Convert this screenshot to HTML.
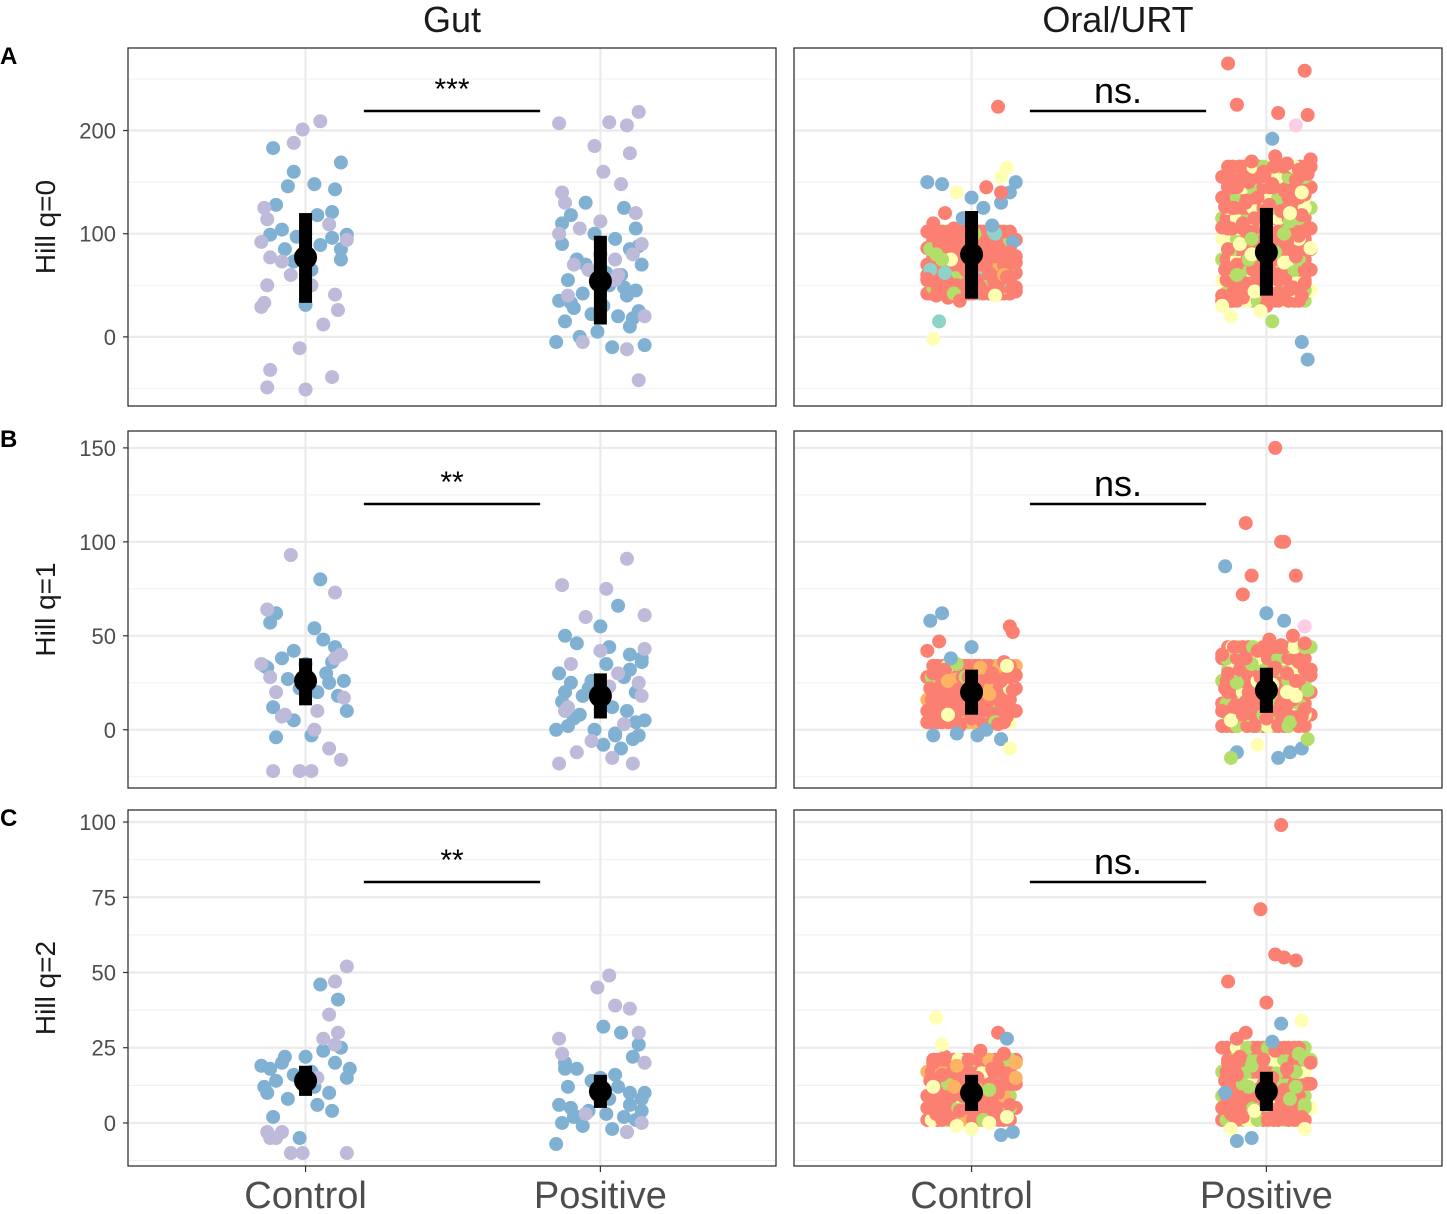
<!DOCTYPE html>
<html><head><meta charset="utf-8"><style>
body{margin:0;background:#fff;}
svg{display:block;font-family:"Liberation Sans",sans-serif;}
</style></head><body>
<svg id="chart" width="1447" height="1214"></svg>
<script>
// ---------- data ----------
const categories = ["Control","Positive"];
const rowTitles = ["Hill q=0","Hill q=1","Hill q=2"];
const rowLetters = ["A","B","C"];
const colTitles = ["Gut","Oral/URT"];
const rowTicks = [[0,100,200],[0,50,100,150],[0,25,50,75,100]];
const rowMinor = [[-50,50,150,250],[-25,25,75,125],[-12.5,12.5,37.5,62.5,87.5]];
const rowDomain = [[-67,280],[-31,159],[-14.3,104]];
const sigLabels = [["***","ns."],["**","ns."],["**","ns."]];
const meanVals = [[[77,54],[80,82]],[[26,18],[20,21]],[[14,10.5],[10,10.5]]];
const lowVals  = [[[33,12],[37,40]],[[13,6],[8,9]],[[9,5],[4,4]]];
const highVals = [[[120,98],[122,125]],[[38,30],[32,33]],[[19,16],[16,17]]];
const palette = {b:"#80B1D3",l:"#BEBADA",r:"#FB8072",y:"#FFFFB3",g:"#B3DE69",o:"#FDB462",p:"#FCCDE5",t:"#8DD3C7"};

// Gut row A
const gA_c_x=[-.11,-.04,-.06,.03,.12,-.1,-.12,-.08,-.03,.05,.09,.14,.12,-.04,.02,0,.09,.04,.1,-.02,-.07,.12,.05,-.01,-.04,-.14,-.13,-.15,-.08,-.12,.08,.1,.06,.11,-.13,-.14,-.15,-.02,0,-.12,-.13,.09,-.05,.02,.14];
const gA_c_v=[183,160,146,148,169,128,99,104,97,89,96,99,75,73,65,31,121,118,143,77,85,85,209,201,188,125,114,92,73,77,109,41,12,26,50,33,29,-11,-51,-32,-49,-39,60,50,94];
const gA_c_c="bbbbbbbbbbbbbbbbbbbbbblllllllllllllllllllllll";
const gA_p_x=[-.05,.08,-.1,.12,-.02,.05,-.13,.1,0,-.08,.14,-.04,.07,-.11,.03,.12,-.06,.09,-.14,.01,-.09,.13,-.03,.06,-.12,.1,-.01,-.15,.15,.04,-.07,.11,-.1,.08,.02,-.05,.13,-.13,.13,.03,-.14,.09,-.02,.1,.07,-.13,-.12,.12,.0,-.07,.14,.11,.05,-.09,-.04,.06,-.11,.15,-.06,.09,.13,.01,-.14,.05];
const gA_p_v=[130,125,118,105,100,95,90,85,80,75,70,65,60,55,50,45,42,40,35,30,28,25,22,20,15,10,5,-5,-8,-10,0,18,33,48,62,70,88,110,218,208,207,205,185,178,148,140,130,120,112,105,90,80,75,70,65,60,40,20,-5,-12,-42,160,100,55];
const gA_p_c="bbbbbbbbbbbbbbbbbbbbbbbbbbbbbbbbbbbbbbllllllllllllllllllllllllll";
// Oral row A
const oA_c_x=[-.15,-.12,-.1,-.08,-.05,-.02,0,.03,.06,.09,.12,.15,-.14,-.11,-.07,-.04,-.01,.02,.05,.08,.11,.14,-.13,-.09,-.06,-.03,.01,.04,.07,.1,.13,-.15,-.1,-.05,0,.05,.1,.15,-.12,-.08,.09,.12,-.13,.1,-.11,-.14,-.06,.02,.11,.14,-.1,.06,-.02,.13,-.15,.08,-.04,.0,.12,-.09,.03,-.12,.15,-.07];
const oA_c_v=[60,55,70,45,50,65,58,48,62,52,68,44,85,90,75,95,80,88,72,100,78,92,110,120,105,115,100,125,108,130,140,150,148,140,135,145,155,150,40,38,223,164,-2,140,15,65,42,55,60,48,75,88,70,82,56,40,35,50,58,62,46,80,72,97];
const oA_c_c="rrrrrrrrrrrrgryrorrtrbrrrbgbbbbbbybrybrrryyrttgrorgrrrryrrrtrgr";
const oA_p_x=[-.15,-.11,-.07,-.03,.01,.05,.09,.13,-.14,-.1,-.06,-.02,.02,.06,.1,.14,-.13,-.09,-.05,-.01,.03,.07,.11,.15,-.12,-.08,-.04,0,.04,.08,.12,-.15,-.11,-.07,-.03,.01,.05,.09,.13,-.14,-.1,-.06,-.02,.02,.06,.1,.14,-.13,-.09,-.05,-.01,.03,.07,.11,.15,-.12,-.08,-.04,0,.04,.08,.12,-.13,.13,-.1,.14,.04,.02,.1,.12,.14,-.15,-.1,.06,.12,-.05,.08,-.12,-.02,.02,-.14,.13];
const oA_p_v=[40,45,50,55,60,42,48,52,65,70,75,68,62,72,78,66,85,90,95,88,82,92,98,86,105,110,115,108,102,112,118,106,125,130,135,128,122,132,138,126,145,150,155,148,142,152,158,146,165,170,160,175,168,162,172,35,38,44,30,36,46,40,265,258,225,215,217,192,205,-5,-22,30,60,100,140,80,120,20,25,15,55,70];
const oA_p_c="rrrrrrrrrrgrryrrrygrgrryrrryrgrrrrrrrrrrrrrrrrrrrrrrrrrrryrrrrrrrrrbpbbyggyyyyyg";
// dense fill for oral blobs (drawn first)
const fillX=[-.15,-.115,-.08,-.045,-.01,.025,.06,.095,.13,-.135,-.1,-.065,-.03,.005,.04,.075,.11];
const oA_c_fill=[42,48,55,62,70,78,86,94,102];
const oA_c_fillC="rrrgrtrrrrorrrrrr";
const oA_p_fill=[35,45,55,65,75,85,95,105,115,125,135,145,155,165];
const oA_p_fillC="rrygrryrgrrygrrr";
const oB_c_fill=[4,10,16,22,28,34];
const oB_c_fillC="rrrrgroryrrrrorrr";
const oB_p_fill=[2,8,14,20,26,32,38,44];
const oB_p_fillC="rrygrgryrrgrgyrgr";
const oC_c_fill=[1,5,9,13,17,21];
const oC_c_fillC="rrgrrorrryrrorgrr";
const oC_p_fill=[1,5,9,13,17,21,25];
const oC_p_fillC="rrgyrrgrrgrygrgrr";
// Row B
const gB_c_x=[-.12,-.1,.03,-.04,.12,.05,-.08,.1,.0,-.13,.07,-.06,.13,.09,-.02,.04,-.11,.11,-.14,.14,-.04,.08,-.1,.02,.06,-.12,.1,-.05,-.13,.1,-.15,.12,-.1,.13,.04,-.07,.03,-.02,-.11,.02,.08,.12,-.08];
const gB_c_v=[57,62,54,42,40,80,38,44,35,33,30,27,26,36,22,20,12,18,34,10,5,25,-4,-3,48,28,38,93,64,73,35,40,20,17,10,8,0,-22,-22,-22,-10,-16,7];
const gB_c_c="bbbbbbbbbbbbbbbbbbbbbbbbbllllllllllllllllll";
const gB_p_x=[-.12,-.08,.0,.06,.1,.14,-.14,-.1,-.04,.02,.08,.12,-.13,-.06,.04,.09,.15,-.11,-.02,.05,.11,-.15,-.07,.01,.07,.13,-.12,-.03,.03,.1,.14,-.09,.05,.12,-.13,-.05,.02,.09,.15,-.1,.0,.06,.13,-.14,.11,-.08,.04,.14,-.12,.03,.08,-.03,-.11,.15];
const gB_p_v=[50,46,55,66,40,38,30,25,22,35,28,20,15,18,12,10,5,2,0,-2,-5,0,8,-8,-10,-3,20,26,44,32,36,6,-3,4,77,60,75,91,61,35,42,30,25,-18,-18,-12,-15,18,10,23,3,-6,12,43];
const gB_p_c="bbbbbbbbbbbbbbbbbbbbbbbbbbbbbbbbbbllllllllllllllllllll";
const oB_c_x=[-.15,-.11,-.07,-.03,.01,.05,.09,.13,-.14,-.1,-.06,-.02,.02,.06,.1,.14,-.13,-.09,-.05,-.01,.03,.07,.11,.15,-.12,-.08,-.04,0,.04,.08,.12,-.15,-.11,-.07,.13,.14,-.1,.02,.1,-.14,-.05,.05,.13,-.13,.0,.09,-.08,.12];
const oB_c_v=[10,12,15,18,8,14,16,11,22,25,20,28,24,19,26,21,30,32,35,28,33,30,36,29,5,8,2,6,10,4,7,42,47,38,55,52,62,-3,-5,58,-2,0,-10,-3,44,3,26,34];
const oB_c_c="rrrrrrrrrrrgrorrrrgrorrrryrrrgrrrbrrbbbbbbybbroy";
const oB_p_x=[-.15,-.11,-.07,-.03,.01,.05,.09,.13,-.14,-.1,-.06,-.02,.02,.06,.1,.14,-.13,-.09,-.05,-.01,.03,.07,.11,.15,-.12,-.08,-.04,0,.04,.08,.12,-.15,-.11,-.07,-.03,.01,.05,.09,.13,.03,-.07,.06,.05,-.05,.1,-.08,.0,.06,.13,-.14,-.1,-.03,.08,.12,.04,-.12,.14,.07,.1,-.13];
const oB_p_v=[10,12,15,18,8,14,16,11,22,25,20,28,24,19,26,21,30,32,35,28,33,30,36,29,5,8,2,6,10,4,7,40,44,38,42,48,45,50,46,150,110,100,100,82,82,72,62,58,55,87,-12,-8,-12,-10,-15,-15,-5,20,18,15];
const oB_p_c="rrrrgrrrrgrryrrgrrgrrrrryrrrrgrrrrrrrrrrrrrrrrbbpbbybbbggyy";
// Row C
const gC_c_x=[-.12,-.08,.0,.06,.1,.14,-.14,-.1,-.04,.02,.08,.12,-.13,-.06,.04,.09,.15,-.11,-.02,.05,.11,-.15,-.07,.03,.11,.08,.1,-.08,.14,-.13,.1,-.1,.04,-.05,-.12,.14,-.01,.06,.12];
const gC_c_v=[18,20,22,24,20,15,12,14,16,17,10,25,10,8,6,4,18,2,-5,46,41,19,22,12,30,36,47,-3,52,-3,26,-5,15,-10,-5,-10,-10,28,11];
const gC_c_c="bbbbbbbbbbbbbbbbbbbbbbbbllllllllllllll";
const gC_p_x=[-.12,-.08,.0,.06,.1,.14,-.14,-.1,-.04,.02,.08,.12,-.13,-.06,.04,.09,.15,-.11,-.02,.05,.11,-.15,-.07,.01,.07,.13,-.12,-.03,.03,.1,.14,-.09,.05,-.01,.03,-.13,.1,.13,-.05,.09,.14,-.14,.15];
const gC_p_v=[20,18,15,12,10,8,6,5,4,3,2,1,0,-1,-2,-3,10,12,14,16,22,-7,2,32,30,26,18,14,8,6,4,2,39,45,49,23,38,30,3,-3,0,28,20];
const gC_p_c="bbbbbbbbbbbbbbbbbbbbbbbbbbbbbbbblllllllllll";
const oC_c_x=[-.15,-.11,-.07,-.03,.01,.05,.09,.13,-.14,-.1,-.06,-.02,.02,.06,.1,.14,-.13,-.09,-.05,-.01,.03,.07,.11,.15,-.12,-.08,-.04,0,.04,.08,.12,-.1,.09,.12,-.12,.0,.1,.14,-.05,.06,.15,-.13];
const oC_c_v=[5,7,9,11,13,8,10,6,14,16,12,18,15,11,17,13,20,22,19,21,24,18,23,20,3,2,4,6,1,5,2,26,30,28,35,-2,-4,-3,-1,0,15,12];
const oC_c_c="rrrrgrrrrrorrgrrrrorrrrorrrrgryyrbyybbyyoy";
const oC_p_x=[-.15,-.11,-.07,-.03,.01,.05,.09,.13,-.14,-.1,-.06,-.02,.02,.06,.1,.14,-.13,-.09,-.05,-.01,.03,.07,.11,.15,-.12,-.08,-.04,0,.04,.08,.12,.05,-.02,.03,-.13,.06,.1,.0,.05,-.1,-.07,.02,.12,-.12,.13,-.05,-.14,.1,.08,-.1];
const oC_p_v=[5,7,9,11,13,8,10,6,14,16,12,18,15,11,17,13,20,22,19,21,24,18,23,20,3,2,4,6,1,5,2,99,71,56,47,55,54,40,33,28,30,27,34,-2,-2,-5,10,12,8,-6];
const oC_p_c="rrrrgrrgrrgrrrgrrrgrrrgrrrygrrrrrrrrrrbrrbyyybbggb";

const panelData=[
 [[[gA_c_x,gA_c_v,gA_c_c],[gA_p_x,gA_p_v,gA_p_c]],[[oA_c_x,oA_c_v,oA_c_c],[oA_p_x,oA_p_v,oA_p_c]]],
 [[[gB_c_x,gB_c_v,gB_c_c],[gB_p_x,gB_p_v,gB_p_c]],[[oB_c_x,oB_c_v,oB_c_c],[oB_p_x,oB_p_v,oB_p_c]]],
 [[[gC_c_x,gC_c_v,gC_c_c],[gC_p_x,gC_p_v,gC_p_c]],[[oC_c_x,oC_c_v,oC_c_c],[oC_p_x,oC_p_v,oC_p_c]]]
];
const fillData=[[[oA_c_fill,oA_c_fillC],[oA_p_fill,oA_p_fillC]],[[oB_c_fill,oB_c_fillC],[oB_p_fill,oB_p_fillC]],[[oC_c_fill,oC_c_fillC],[oC_p_fill,oC_p_fillC]]];

// ---------- layout ----------
const NS="http://www.w3.org/2000/svg";
const svg=document.getElementById('chart');
const colX=[[128,776],[794,1442]];
const rowY=[[48,406],[431,788],[810,1166]];
function mk(tag,attrs,parent){const e=document.createElementNS(NS,tag);for(const k in attrs)e.setAttribute(k,attrs[k]);(parent||svg).appendChild(e);return e;}
function xScale(col,cat){const [a,b]=colX[col];const w=b-a;return a+w*0.274+cat*(w*0.455);}
function yScale(row,v){const [t,bm]=rowY[row];const [d0,d1]=rowDomain[row];return bm-(v-d0)/(d1-d0)*(bm-t);}

for(let c=0;c<2;c++){
  const t=mk('text',{x:(colX[c][0]+colX[c][1])/2,y:32,'text-anchor':'middle','font-size':36,fill:'#1a1a1a'});
  t.textContent=colTitles[c];
  
  
}
for(let r=0;r<3;r++){
  const L=mk('text',{x:0,y:rowY[r][0]+16,'font-size':24,'font-weight':'bold',fill:'#000'});
  L.textContent=rowLetters[r];
  
  
  const cy=(rowY[r][0]+rowY[r][1])/2;
  const T=mk('text',{x:55,y:cy,'text-anchor':'middle','font-size':28,fill:'#1a1a1a',transform:`rotate(-90 55 ${cy})`});
  T.textContent=rowTitles[r];
  
  
  for(let c=0;c<2;c++){
    const g=mk('g',{});
    
    
    const [x0,x1]=colX[c],[y0,y1]=rowY[r];
    mk('rect',{x:x0,y:y0,width:x1-x0,height:y1-y0,fill:'#fff'},g);
    rowMinor[r].forEach(v=>{const y=yScale(r,v);if(y>y0&&y<y1)mk('line',{x1:x0,x2:x1,y1:y,y2:y,stroke:'#f2f2f2','stroke-width':1.2},g);});
    rowTicks[r].forEach(v=>{const y=yScale(r,v);mk('line',{x1:x0,x2:x1,y1:y,y2:y,stroke:'#ebebeb','stroke-width':2.2},g);
      if(c===0){const tl=mk('text',{x:x0-12,y:y+8,'text-anchor':'end','font-size':22,fill:'#4d4d4d'});tl.textContent=v;
        
        mk('line',{x1:x0-5,x2:x0,y1:y,y2:y,stroke:'#333','stroke-width':1.2});}
    });
    for(let k=0;k<2;k++){const x=xScale(c,k);mk('line',{x1:x,x2:x,y1:y0,y2:y1,stroke:'#ebebeb','stroke-width':2.2},g);}
    for(let k=0;k<2;k++){
      const xc=xScale(c,k),unit=xScale(c,1)-xScale(c,0);
      if(c===1){
        const [fv,fc]=fillData[r][k];
        fv.forEach((v,j)=>{fillX.forEach((fx,i)=>{
          const off=(j%2)*0.02;
          const p=mk('circle',{cx:xc+(fx+off)*unit,cy:yScale(r,v),r:7,fill:palette[fc[(i+j*3)%fc.length]]},g);
          
          
        });});
      }
      const [xs,vs,cs]=panelData[r][c][k];
      const n=Math.min(xs.length,vs.length,cs.length);
      for(let i=0;i<n;i++){
        const p=mk('circle',{cx:xc+xs[i]*unit,cy:yScale(r,vs[i]),r:7,fill:palette[cs[i]]},g);
        
        
      }
      const ym=yScale(r,meanVals[r][c][k]);
      const bar=mk('rect',{x:xc-6.5,y:yScale(r,highVals[r][c][k]),width:13,height:yScale(r,lowVals[r][c][k])-yScale(r,highVals[r][c][k]),fill:'#000'},g);
      
      
      const m=mk('circle',{cx:xc,cy:ym,r:11.5,fill:'#000'},g);
      
      
    }
    const lx0=x0+(x1-x0)*0.364,lx1=x0+(x1-x0)*0.636;
    const ly=r===0?111:(r===1?504:882);
    mk('line',{x1:lx0,x2:lx1,y1:ly,y2:ly,stroke:'#000','stroke-width':2.5},g);
    const s=sigLabels[r][c];
    const st=mk('text',{x:(lx0+lx1)/2,y:s==='ns.'?ly-8:ly-12,'text-anchor':'middle','font-size':s==='ns.'?36:30,fill:'#000'},g);
    st.textContent=s;
    
    
    mk('rect',{x:x0,y:y0,width:x1-x0,height:y1-y0,fill:'none',stroke:'#333','stroke-width':1.3},g);
    if(r===2){for(let k=0;k<2;k++){const x=xScale(c,k);
      mk('line',{x1:x,x2:x,y1:y1,y2:y1+6,stroke:'#333','stroke-width':1.2});
      const xl=mk('text',{x:x,y:1208,'text-anchor':'middle','font-size':38,fill:'#4d4d4d'});xl.textContent=categories[k];
      }}
  }
}
</script>
</body></html>
